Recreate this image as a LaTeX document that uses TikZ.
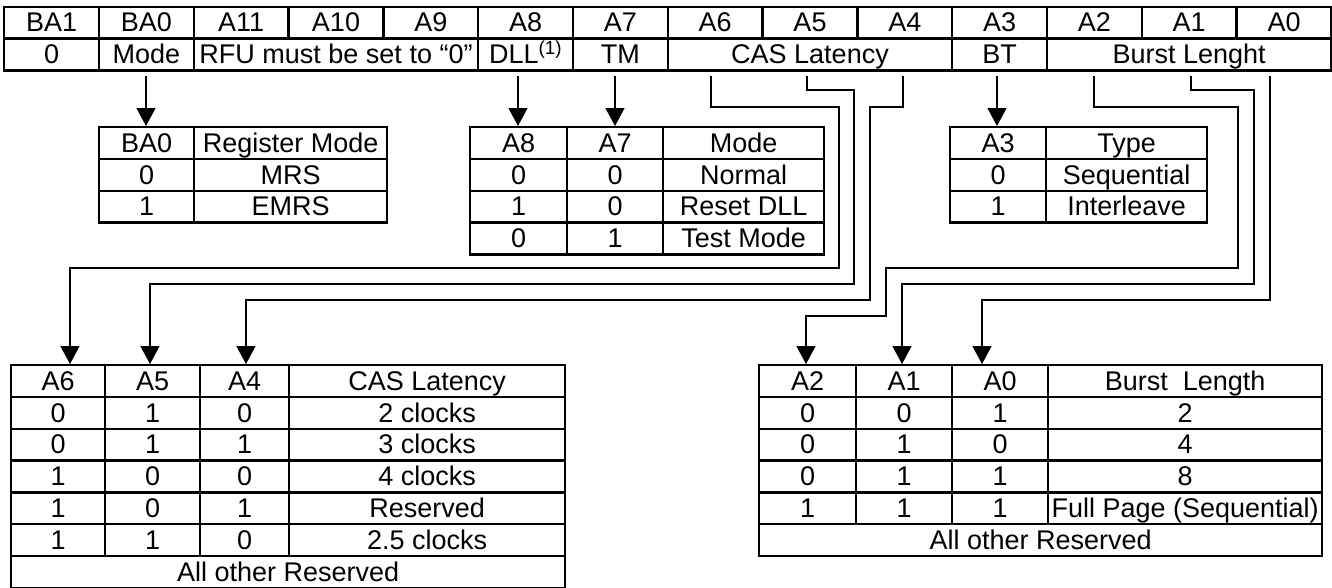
\documentclass[tikz,border=0pt]{standalone}
\usepackage{fontspec}
\setmainfont{Liberation Sans}
\usepackage{tikz}
\usetikzlibrary{arrows.meta}

\begin{document}
\begin{tikzpicture}[x=1pt, y=-1pt, font=\fontsize{27}{30}\selectfont,
  cel/.style={draw, line width=2.4pt, inner sep=0pt, anchor=north west,
              minimum height=31.8pt, text height=19pt, text depth=0.5pt},
  wire/.style={line width=1.4pt},
  arr/.style={wire, -{Triangle[length=18pt, width=19pt]}}]
\useasboundingbox (0,0) rectangle (1332,587);

% the register: address bits, then the fields they hold
\foreach \lab [count=\i from 0] in {BA1,BA0,A11,A10,A9,A8,A7,A6,A5,A4,A3,A2,A1,A0}
  \node[cel, minimum width=94.8pt] (t\i) at (3+\i*94.8, 5.5) {\lab};
\foreach \a/\b/\lab in {0/1/0, 1/2/Mode, 2/5/RFU must be set to “0”,
    5/6/DLL\textsuperscript{(1)}, 6/7/TM, 7/10/CAS Latency, 10/11/BT, 11/14/Burst Lenght}
  \node[cel, minimum width=(\b-\a)*94.8pt] (f\a) at (3+\a*94.8, 37.3) {\lab};

% register mode
\foreach \p/\lab [count=\k from 0] in {BA0/Register Mode, 0/MRS, 1/EMRS}{%
  \node[cel, minimum width=95pt] (bp\k) at (98,126+\k*31.8) {\p};
  \node[cel, minimum width=193pt] (bm\k) at (193,126+\k*31.8) {\lab};}

% DLL and test mode
\foreach \p/\q/\lab [count=\k from 0] in {A8/A7/Mode, 0/0/Normal, 1/0/Reset DLL, 0/1/Test Mode}{%
  \node[cel, minimum width=97pt] (dp\k) at (469,126+\k*31.8) {\p};
  \node[cel, minimum width=96pt] (dq\k) at (566,126+\k*31.8) {\q};
  \node[cel, minimum width=161pt] (dm\k) at (662,126+\k*31.8) {\lab};}

% burst type
\foreach \p/\lab [count=\k from 0] in {A3/Type, 0/Sequential, 1/Interleave}{%
  \node[cel, minimum width=96pt] (tp\k) at (949,126+\k*31.8) {\p};
  \node[cel, minimum width=161pt] (tm\k) at (1045,126+\k*31.8) {\lab};}

% CAS latency
\foreach \p/\q/\r/\lab [count=\k from 0] in {A6/A5/A4/CAS Latency, 0/1/0/2 clocks,
    0/1/1/3 clocks, 1/0/0/4 clocks, 1/0/1/Reserved, 1/1/0/2.5 clocks}{%
  \node[cel, minimum width=94pt] (cp\k) at (10,364+\k*31.8) {\p};
  \node[cel, minimum width=95pt] (cq\k) at (104,364+\k*31.8) {\q};
  \node[cel, minimum width=89pt] (cr\k) at (199,364+\k*31.8) {\r};
  \node[cel, minimum width=276pt] (cm\k) at (288,364+\k*31.8) {\lab};}
\node[cel, minimum width=554pt] (cAll) at (10,364+6*31.8) {All other Reserved};

% burst length
\foreach \p/\q/\r/\lab [count=\k from 0] in {A2/A1/A0/Burst\ \ Length, 0/0/1/2,
    0/1/0/4, 0/1/1/8, 1/1/1/Full Page (Sequential)}{%
  \node[cel, minimum width=97pt] (lp\k) at (758,364+\k*31.8) {\p};
  \node[cel, minimum width=96pt] (lq\k) at (855,364+\k*31.8) {\q};
  \node[cel, minimum width=96pt] (lr\k) at (951,364+\k*31.8) {\r};
  \node[cel, minimum width=274pt] (lm\k) at (1047,364+\k*31.8) {\lab};}
\node[cel, minimum width=563pt] (lAll) at (758,364+5*31.8) {All other Reserved};

% where the lines leave the register and where they land
\foreach \n/\x in {BA0/146, A8/518, A7/615, A3/997, A6/711, A5/807, A4/903, A2/1094, A1/1191, A0/1270}
  \coordinate (s\n) at (\x,76);
\foreach \n/\x in {A6/70, A5/150, A4/246, A2/806, A1/902, A0/982}
  \coordinate (e\n) at (\x,364);

\draw[arr] (sBA0) -- (sBA0 |- bp0.north);
\draw[arr] (sA8) -- (sA8 |- dp0.north);
\draw[arr] (sA7) -- (sA7 |- dq0.north);
\draw[arr] (sA3) -- (sA3 |- tp0.north);

\draw[arr] (sA6) |- (839,107) |- (70,268) -- (eA6);
\draw[arr] (sA5) |- (854,90) |- (150,284) -- (eA5);
\draw[arr] (sA4) |- (870,107) |- (246,300) -- (eA4);
\draw[arr] (sA2) |- (1238,107) |- (886,268) |- (806,316) -- (eA2);
\draw[arr] (sA1) |- (1254,90) |- (902,284) -- (eA1);
\draw[arr] (sA0) |- (982,300) -- (eA0);
\end{tikzpicture}
\end{document}
